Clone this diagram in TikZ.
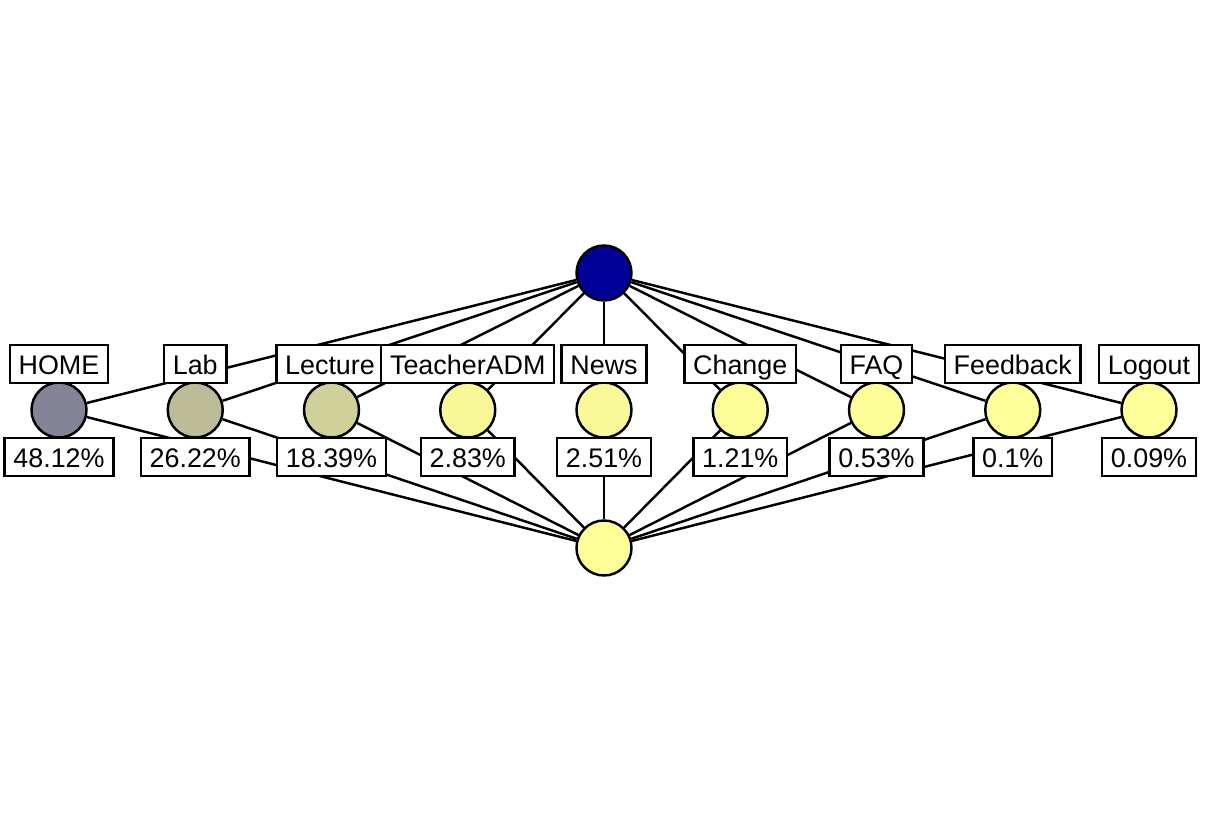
\documentclass[tikz,border=0pt]{standalone}
\usepackage{fontspec}
\setmainfont{Liberation Sans}
\usetikzlibrary{backgrounds}
\definecolor{hi}{RGB}{0,0,153}
\definecolor{lo}{RGB}{255,255,153}
\begin{document}
\begin{tikzpicture}[
    pg/.style={circle,draw,line width=1.4pt,minimum size=1.1cm,inner sep=0pt},
    lbl/.style={rectangle,draw,fill=white,line width=1.4pt,font=\fontsize{15.3}{18}\selectfont,inner xsep=5pt,inner ysep=3pt,text height=12.2pt,text depth=0.3pt,minimum height=0.75cm},
    edge/.style={line width=1.4pt},
]
\useasboundingbox (0,0) rectangle (24.1,16.42);

\node[pg,fill=hi] (top) at (12.08,10.96) {};
\node[pg,fill=lo] (bot) at (12.08,5.46) {};

\node[pg,fill=hi!48.12!lo] (home) at (1.18,8.22) {};
\node[pg,fill=hi!26.22!lo] (lab) at (3.905,8.22) {};
\node[pg,fill=hi!18.39!lo] (lec) at (6.63,8.22) {};
\node[pg,fill=hi!2.83!lo] (tadm) at (9.355,8.22) {};
\node[pg,fill=hi!2.51!lo] (news) at (12.08,8.22) {};
\node[pg,fill=hi!1.21!lo] (chg) at (14.805,8.22) {};
\node[pg,fill=hi!0.53!lo] (faq) at (17.53,8.22) {};
\node[pg,fill=hi!0.1!lo] (fb) at (20.255,8.22) {};
\node[pg,fill=hi!0.09!lo] (out) at (22.98,8.22) {};

\node[lbl] (nhome) at (1.18,9.14) {HOME};
\node[lbl] (nlab) at (3.905,9.14) {Lab};
\node[lbl] (nlec) at (6.6,9.14) {Lecture};
\node[lbl] (ntadm) at (9.355,9.14) {TeacherADM};
\node[lbl] (nnews) at (12.08,9.14) {News};
\node[lbl] (nchg) at (14.805,9.14) {Change};
\node[lbl] (nfaq) at (17.53,9.14) {FAQ};
\node[lbl] (nfb) at (20.255,9.14) {Feedback};
\node[lbl] (nout) at (22.98,9.14) {Logout};

\node[lbl] (phome) at (1.18,7.28) {48.12\%};
\node[lbl] (plab) at (3.905,7.28) {26.22\%};
\node[lbl] (plec) at (6.63,7.28) {18.39\%};
\node[lbl] (ptadm) at (9.355,7.28) {2.83\%};
\node[lbl] (pnews) at (12.08,7.28) {2.51\%};
\node[lbl] (pchg) at (14.805,7.28) {1.21\%};
\node[lbl] (pfaq) at (17.53,7.28) {0.53\%};
\node[lbl] (pfb) at (20.255,7.28) {0.1\%};
\node[lbl] (pout) at (22.98,7.28) {0.09\%};

\begin{scope}[on background layer]
\draw[edge] (top) -- (home); \draw[edge] (top) -- (lab); \draw[edge] (top) -- (lec);
\draw[edge] (top) -- (tadm); \draw[edge] (top) -- (news); \draw[edge] (top) -- (chg);
\draw[edge] (top) -- (faq); \draw[edge] (top) -- (fb); \draw[edge] (top) -- (out);
\draw[edge] (home) -- (bot); \draw[edge] (lab) -- (bot); \draw[edge] (lec) -- (bot);
\draw[edge] (tadm) -- (bot); \draw[edge] (news) -- (bot); \draw[edge] (chg) -- (bot);
\draw[edge] (faq) -- (bot); \draw[edge] (fb) -- (bot); \draw[edge] (out) -- (bot);
\end{scope}
\end{tikzpicture}
\end{document}
